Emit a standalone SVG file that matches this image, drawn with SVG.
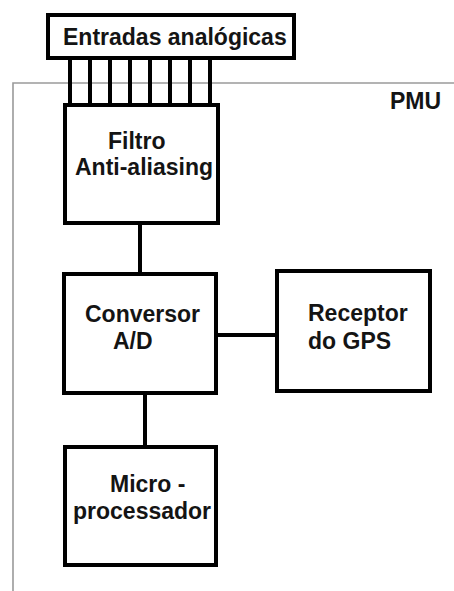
<svg xmlns="http://www.w3.org/2000/svg" width="454" height="591" viewBox="0 0 454 591">
<style>
.box{fill:#fff;stroke:#000;stroke-width:4}
.t{font-family:"Liberation Sans",Arial,sans-serif;font-weight:bold;font-size:23px;fill:#141414}
.c{stroke:#000;stroke-width:4;fill:none}
.b{stroke:#9a9a9a;stroke-width:1.6;fill:none}
</style>
<rect width="454" height="591" fill="#fff"/>
<g id="pmu">
<path class="b" d="M13,591 V83 H454"/>
<text class="t" x="390" y="109">PMU</text>
</g>
<g id="connectors">
<path class="c" d="M70,58 V105 M90,58 V105 M110,58 V105 M130,58 V105 M150,58 V105 M170,58 V105 M190,58 V105 M210,58 V105"/>
<path class="c" d="M140,223 V274"/>
<path class="c" d="M145,393 V447"/>
<path class="c" d="M216,335 H277"/>
</g>
<g id="entradas">
<rect class="box" x="48" y="15" width="246" height="43"/>
<text class="t" x="63" y="45">Entradas analógicas</text>
</g>
<g id="filtro">
<rect class="box" x="65" y="105" width="153" height="118"/>
<text class="t" x="108" y="149">Filtro</text>
<text class="t" x="75" y="175">Anti-aliasing</text>
</g>
<g id="conversor">
<rect class="box" x="64" y="274" width="152" height="119"/>
<text class="t" x="85" y="322">Conversor</text>
<text class="t" x="113" y="349">A/D</text>
</g>
<g id="gps">
<rect class="box" x="277" y="271" width="153" height="120"/>
<text class="t" x="308" y="321">Receptor</text>
<text class="t" x="308" y="349">do GPS</text>
</g>
<g id="micro">
<rect class="box" x="65" y="447" width="151" height="118"/>
<text class="t" x="110" y="492">Micro -</text>
<text class="t" x="73" y="519">processador</text>
</g>
</svg>
